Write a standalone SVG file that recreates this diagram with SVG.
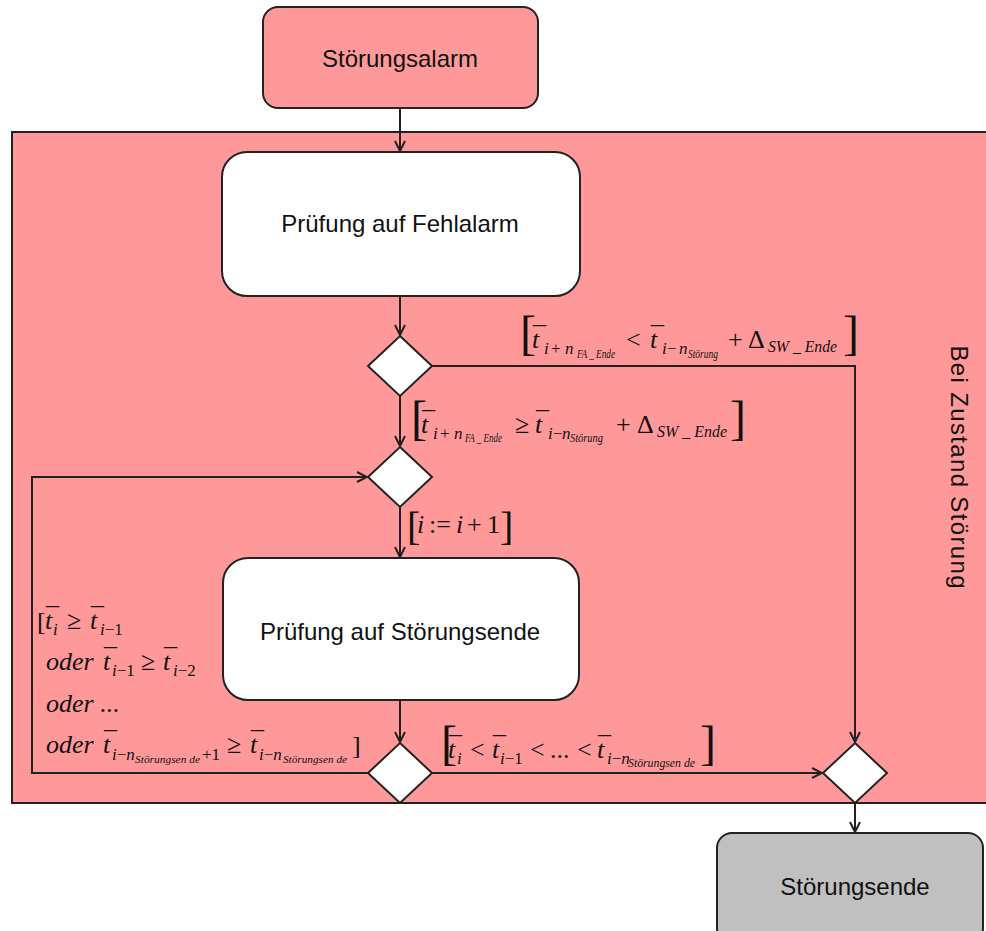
<svg xmlns="http://www.w3.org/2000/svg" width="986" height="931" viewBox="0 0 986 931">
<style>
.lane{fill:#FF9999;stroke:#222;stroke-width:2}
.box{stroke:#222;stroke-width:2}
.dia{fill:#fff;stroke:#222;stroke-width:2}
.c{fill:none;stroke:#222;stroke-width:2}
.n{font-family:"Liberation Sans",Arial,sans-serif;font-size:24px;fill:#111;text-anchor:middle}
.m{font-family:"Liberation Serif","Times New Roman",serif;font-size:26px;fill:#111}
.i{font-style:italic}
.s{font-size:17px}
.ss{font-size:12px}
.br{font-size:48px}
</style>
<defs>
<marker id="a" viewBox="0 0 12 12" refX="11" refY="6" markerWidth="12" markerHeight="12" markerUnits="userSpaceOnUse" orient="auto">
<path d="M1,1 L11,6 L1,11" fill="none" stroke="#222" stroke-width="2"/>
</marker>
</defs>
<g id="lane">
<rect class="lane" x="12" y="132" width="990" height="671"/>
<text class="n" font-size="27" textLength="243" lengthAdjust="spacing" transform="translate(951,467) rotate(90)">Bei Zustand Störung</text>
</g>
<g id="n-alarm">
<rect class="box" x="263" y="7" width="275" height="101" rx="15" fill="#FF9999"/>
<text class="n" x="400" y="67">Störungsalarm</text>
</g>
<g id="n-fehlalarm">
<rect class="box" x="222" y="152" width="358" height="144" rx="25" fill="#fff"/>
<text class="n" x="400" y="232">Prüfung auf Fehlalarm</text>
</g>
<g id="n-stoerungsende-pruefung">
<rect class="box" x="223" y="558" width="356" height="142" rx="25" fill="#fff"/>
<text class="n" x="400" y="640">Prüfung auf Störungsende</text>
</g>
<g id="n-ende">
<rect class="box" x="717" y="833" width="266" height="110" rx="15" fill="#C0C0C0"/>
<text class="n" x="855" y="895">Störungsende</text>
</g>
<g id="d1"><polygon class="dia" points="400,336 432,366 400,396 368,366"/></g>
<g id="d2"><polygon class="dia" points="400,447 432,477 400,507 368,477"/></g>
<g id="d3"><polygon class="dia" points="400,743 432,773 400,803 368,773"/></g>
<g id="d4"><polygon class="dia" points="855,743 887,773 855,803 823,773"/></g>
<g id="connectors">
<path class="c" d="M400,108 V151" marker-end="url(#a)"/>
<path class="c" d="M400,296 V335" marker-end="url(#a)"/>
<path class="c" d="M432,366 H855 V742" marker-end="url(#a)"/>
<path class="c" d="M400,396 V446" marker-end="url(#a)"/>
<path class="c" d="M400,507 V557" marker-end="url(#a)"/>
<path class="c" d="M400,700 V742" marker-end="url(#a)"/>
<path class="c" d="M368,773 H32 V477 H367" marker-end="url(#a)"/>
<path class="c" d="M432,773 H822" marker-end="url(#a)"/>
<path class="c" d="M855,803 V832" marker-end="url(#a)"/>
</g>
<g id="label1">
<text class="m"><tspan class="br" x="520" y="349">[</tspan><tspan class="i" x="532" y="348">t</tspan><tspan x="533" y="344">¯</tspan><tspan class="s i" x="544" y="354">i</tspan><tspan class="s" x="551" y="354">+</tspan><tspan class="s i" x="565" y="354">n</tspan><tspan class="ss i" x="577" y="358" textLength="38" lengthAdjust="spacingAndGlyphs">FA _ Ende</tspan><tspan x="626" y="348">&lt;</tspan><tspan class="i" x="650" y="348">t</tspan><tspan x="651" y="344">¯</tspan><tspan class="s i" x="662" y="354">i</tspan><tspan class="s" x="667" y="354">−</tspan><tspan class="s i" x="679" y="354">n</tspan><tspan class="ss i" x="688" y="358" textLength="30" lengthAdjust="spacingAndGlyphs">Störung</tspan><tspan x="728" y="348">+</tspan><tspan x="748" y="348">Δ</tspan><tspan class="s i" x="768" y="352" textLength="69" lengthAdjust="spacingAndGlyphs">SW _ Ende</tspan><tspan class="br" x="843" y="349">]</tspan></text>
</g>
<g id="label2">
<text class="m"><tspan class="br" x="411" y="434">[</tspan><tspan class="i" x="421" y="433">t</tspan><tspan x="422" y="429">¯</tspan><tspan class="s i" x="433" y="439">i</tspan><tspan class="s" x="440" y="439">+</tspan><tspan class="s i" x="454" y="439">n</tspan><tspan class="ss i" x="465" y="442" textLength="37" lengthAdjust="spacingAndGlyphs">FA _ Ende</tspan><tspan x="515" y="433">≥</tspan><tspan class="i" x="535" y="433">t</tspan><tspan x="536" y="429">¯</tspan><tspan class="s i" x="548" y="439">i</tspan><tspan class="s" x="553" y="439">−</tspan><tspan class="s i" x="562" y="439">n</tspan><tspan class="ss i" x="570" y="442" textLength="33" lengthAdjust="spacingAndGlyphs">Störung</tspan><tspan x="616" y="433">+</tspan><tspan x="637" y="433">Δ</tspan><tspan class="s i" x="657" y="437" textLength="70" lengthAdjust="spacingAndGlyphs">SW _ Ende</tspan><tspan class="br" x="730" y="434">]</tspan></text>
</g>
<g id="label3">
<text class="m" font-size="28"><tspan font-size="40" x="407" y="540">[</tspan><tspan class="i" x="417" y="533">i</tspan><tspan x="429" y="533">:=</tspan><tspan class="i" x="456" y="533">i</tspan><tspan x="467" y="533">+</tspan><tspan x="487" y="533">1</tspan><tspan font-size="40" x="500" y="540">]</tspan></text>
</g>
<g id="label4">
<text class="m" font-size="25"><tspan x="37" y="630">[</tspan><tspan class="i" x="45" y="629">t</tspan><tspan x="46" y="625">¯</tspan><tspan class="s i" x="53" y="635">i</tspan><tspan x="67" y="629">≥</tspan><tspan class="i" x="90" y="629">t</tspan><tspan x="91" y="625">¯</tspan><tspan class="s i" x="100" y="635">i</tspan><tspan class="s">−1</tspan></text>
<text class="m" font-size="25"><tspan class="i" x="46" y="670">oder</tspan><tspan class="i" x="103" y="670">t</tspan><tspan x="104" y="666">¯</tspan><tspan class="s i" x="112" y="676">i</tspan><tspan class="s">−1</tspan><tspan x="141" y="670">≥</tspan><tspan class="i" x="163" y="670">t</tspan><tspan x="164" y="666">¯</tspan><tspan class="s i" x="173" y="676">i</tspan><tspan class="s">−2</tspan></text>
<text class="m i" font-size="25" x="46" y="712">oder ...</text>
<text class="m" font-size="25"><tspan class="i" x="46" y="753">oder</tspan><tspan class="i" x="103" y="753">t</tspan><tspan x="104" y="749">¯</tspan><tspan class="s i" x="112" y="760">i</tspan><tspan class="s">−</tspan><tspan class="s i">n</tspan><tspan class="i" font-size="11" x="135" y="763" textLength="65" lengthAdjust="spacingAndGlyphs">Störungsen de</tspan><tspan class="s" x="202" y="760">+1</tspan><tspan x="227" y="753">≥</tspan><tspan class="i" x="250" y="753">t</tspan><tspan x="251" y="749">¯</tspan><tspan class="s i" x="259" y="760">i</tspan><tspan class="s">−</tspan><tspan class="s i">n</tspan><tspan class="i" font-size="11" x="283" y="763" textLength="64" lengthAdjust="spacingAndGlyphs">Störungsen de</tspan><tspan x="352" y="754">]</tspan></text>
</g>
<g id="label5">
<text class="m"><tspan class="br" x="441" y="759">[</tspan><tspan class="i" x="448" y="758">t</tspan><tspan x="449" y="754">¯</tspan><tspan class="s i" x="457" y="764">i</tspan><tspan x="470" y="758">&lt;</tspan><tspan class="i" x="492" y="758">t</tspan><tspan x="493" y="754">¯</tspan><tspan class="s i" x="500" y="764">i</tspan><tspan class="s">−1</tspan><tspan x="530" y="758">&lt;</tspan><tspan x="550" y="758">...</tspan><tspan x="577" y="758">&lt;</tspan><tspan class="i" x="597" y="758">t</tspan><tspan x="598" y="754">¯</tspan><tspan class="s i" x="607" y="764">i</tspan><tspan class="s">−</tspan><tspan class="s i">n</tspan><tspan class="i" font-size="11.5" x="628" y="767" textLength="67" lengthAdjust="spacingAndGlyphs">Störungsen de</tspan><tspan class="br" x="700" y="759">]</tspan></text>
</g>
</svg>
